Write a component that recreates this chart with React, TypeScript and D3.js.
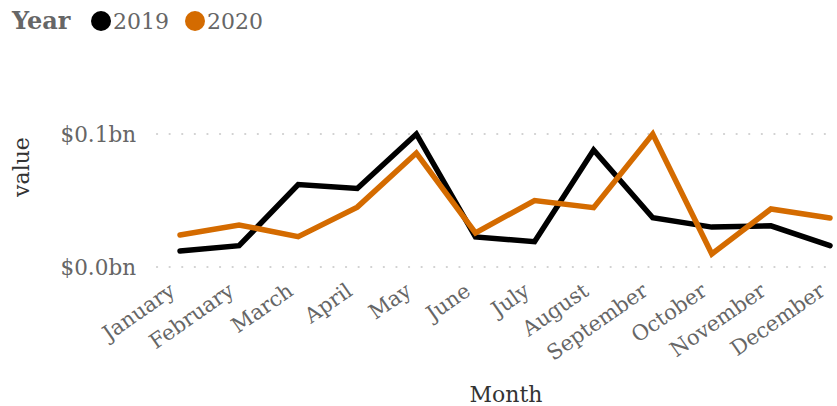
import { useRef, useEffect } from 'react';
import * as d3 from 'd3';

const MONTHS = ['January', 'February', 'March', 'April', 'May', 'June', 'July', 'August', 'September', 'October', 'November', 'December'];
const SERIES_2019 = [0.012, 0.016, 0.062, 0.059, 0.1, 0.0226, 0.019, 0.088, 0.037, 0.03, 0.031, 0.016];
const SERIES_2020 = [0.024, 0.0316, 0.0228, 0.045, 0.0857, 0.0256, 0.05, 0.0446, 0.1, 0.0098, 0.0436, 0.0368];
const Y_TICKS = [0, 0.1];
const YEARS = ['2019', '2020'];
const COLORS = ['#000000', '#d46b00'];

const W = 837;
const H = 406;
const FONT = '"DejaVu Serif", Georgia, serif';

export default function App() {
  const svgRef = useRef<SVGSVGElement>(null);

  useEffect(() => {
    const svg = d3.select(svgRef.current);
    svg.selectAll('*').remove();

    const x = d3.scalePoint<string>().domain(MONTHS).range([180, 830]);
    const y = d3.scaleLinear().domain([0, 0.1]).range([267, 134]);

    // Gridlines
    svg.append('g')
      .selectAll('line')
      .data(Y_TICKS)
      .join('line')
      .attr('x1', 157)
      .attr('x2', 832)
      .attr('y1', d => y(d))
      .attr('y2', d => y(d))
      .attr('stroke', '#d0d0d0')
      .attr('stroke-width', 2.2)
      .attr('stroke-dasharray', '0.1,12.5')
      .attr('stroke-linecap', 'round');

    // Y tick labels
    svg.append('g')
      .selectAll('text')
      .data(Y_TICKS)
      .join('text')
      .attr('x', 136)
      .attr('y', d => y(d))
      .attr('dy', '0.35em')
      .attr('text-anchor', 'end')
      .attr('fill', '#666666')
      .attr('font-family', FONT)
      .attr('font-size', 21.5)
      .text(d => `$${d.toFixed(1)}bn`);

    // X tick labels
    svg.append('g')
      .selectAll('text')
      .data(MONTHS)
      .join('text')
      .attr('transform', d => `translate(${x(d)! - 12},${282}) rotate(-35)`)
      .attr('text-anchor', 'end')
      .attr('dy', '0.7em')
      .attr('fill', '#666666')
      .attr('font-family', FONT)
      .attr('font-size', 21)
      .text(d => d);

    // Lines
    const line = d3.line<number>()
      .x((_, i) => x(MONTHS[i])!)
      .y(d => y(d));

    [SERIES_2019, SERIES_2020].forEach((s, i) => {
      svg.append('path')
        .datum(s)
        .attr('d', line)
        .attr('fill', 'none')
        .attr('stroke', COLORS[i])
        .attr('stroke-width', 5.5)
        .attr('stroke-linejoin', 'miter')
        .attr('stroke-linecap', 'round');
    });

    // Axis titles
    svg.append('text')
      .attr('transform', `translate(29,167) rotate(-90)`)
      .attr('text-anchor', 'middle')
      .attr('fill', '#333333')
      .attr('font-family', FONT)
      .attr('font-size', 22)
      .text('value');

    svg.append('text')
      .attr('x', 506)
      .attr('y', 402)
      .attr('text-anchor', 'middle')
      .attr('fill', '#333333')
      .attr('font-family', FONT)
      .attr('font-size', 22)
      .text('Month');

    // Legend
    const lg = svg.append('g');
    lg.append('text')
      .attr('x', 12)
      .attr('y', 29)
      .attr('fill', '#666666')
      .attr('font-family', FONT)
      .attr('font-weight', 'bold')
      .attr('font-size', 24)
      .text('Year');
    const items = [{ cx: 101, tx: 113 }, { cx: 195, tx: 207 }];
    YEARS.forEach((yr, i) => {
      lg.append('circle')
        .attr('cx', items[i].cx)
        .attr('cy', 21)
        .attr('r', 10)
        .attr('fill', COLORS[i]);
      lg.append('text')
        .attr('x', items[i].tx)
        .attr('y', 29)
        .attr('fill', '#666666')
        .attr('font-family', FONT)
        .attr('font-size', 22)
        .text(yr);
    });
  }, []);

  return (
    <svg
      ref={svgRef}
      width={W}
      height={H}
      style={{ display: 'block', position: 'absolute', left: 0, top: 0, background: '#fff' }}
    />
  );
}
